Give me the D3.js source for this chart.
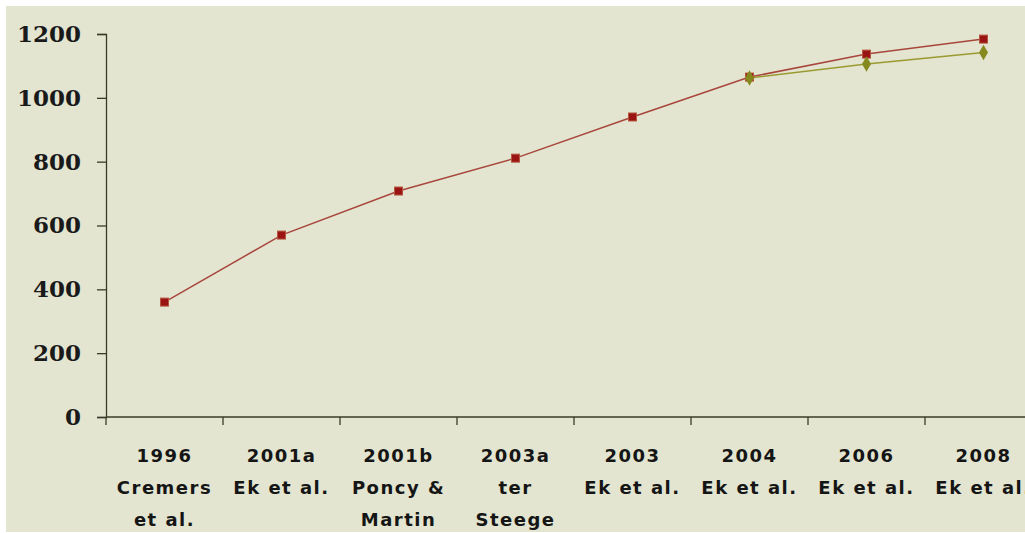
<!DOCTYPE html>
<html>
<head>
<meta charset="utf-8">
<script src="https://cdn.jsdelivr.net/npm/d3@7"></script>
<style>
  body { margin: 0; background: #ffffff; }
  svg { display: block; }
</style>
</head>
<body>
<div id="wrapper"></div>
<script>
// categories, two lines of label each (year + source)
const categories = ["1996", "2001a", "2001b", "2003a", "2003", "2004", "2006", "2008"];
const labelLines = [
    ["1996", "Cremers", "et al."],
    ["2001a", "Ek et al."],
    ["2001b", "Poncy &", "Martin"],
    ["2003a", "ter", "Steege"],
    ["2003", "Ek et al."],
    ["2004", "Ek et al."],
    ["2006", "Ek et al."],
    ["2008", "Ek et al."]
];
// red squares
const seriesA = [360, 570, 708, 811, 940, 1065, 1137, 1184];
// olive diamonds, only from 2004
const seriesB = [null, null, null, null, null, 1062, 1106, 1142];
const yTicks = [0, 200, 400, 600, 800, 1000, 1200];

function buildPlot() {
    const dimension = {
        width: 1025,
        height: 533,
        margin: { top: 34, left: 106, bottom: 116, right: -17 }
    };
    dimension.boundedWidth = dimension.width - dimension.margin.left - dimension.margin.right;
    dimension.boundedHeight = dimension.height - dimension.margin.top - dimension.margin.bottom;

    const svg = d3.select("#wrapper").append("svg")
        .attr("width", dimension.width)
        .attr("height", dimension.height);

    // panel background
    svg.append("rect")
        .attr("x", 6).attr("y", 6)
        .attr("width", dimension.width - 6)
        .attr("height", dimension.height - 7)
        .attr("fill", "#e3e5d0");

    const bounded = svg.append("g")
        .attr("transform", `translate(${dimension.margin.left},${dimension.margin.top})`);

    const xScaler = d3.scaleBand()
        .domain(categories)
        .range([0, dimension.boundedWidth]);

    const yScaler = d3.scaleLinear()
        .domain([0, 1200])
        .range([dimension.boundedHeight, 0]);

    const xCenter = (i) => xScaler(categories[i]) + xScaler.bandwidth() / 2;

    // y axis
    const yAxis = bounded.append("g")
        .call(d3.axisLeft(yScaler).tickValues(yTicks).tickSize(9).tickPadding(16).tickFormat(d3.format("d")));
    yAxis.select(".domain").attr("stroke", "#3a3a2a").attr("stroke-width", 1.3);
    yAxis.selectAll(".tick line").attr("stroke", "#3a3a2a").attr("stroke-width", 1.3);
    yAxis.selectAll(".tick text")
        .attr("fill", "#1a1a1a")
        .style("font-family", "'DejaVu Serif', serif")
        .style("font-weight", "bold")
        .style("font-size", "23px");

    // x axis with ticks at band edges
    const edges = categories.map((c) => xScaler(c)).concat([dimension.boundedWidth]);
    const xAxisG = bounded.append("g")
        .attr("transform", `translate(0,${dimension.boundedHeight})`);
    xAxisG.append("line")
        .attr("x1", 0).attr("x2", dimension.boundedWidth)
        .attr("stroke", "#3a3a2a").attr("stroke-width", 1.3);
    xAxisG.selectAll("line.tk")
        .data(edges)
        .join("line")
        .attr("class", "tk")
        .attr("x1", (d) => d).attr("x2", (d) => d)
        .attr("y1", 0).attr("y2", 8)
        .attr("stroke", "#3a3a2a").attr("stroke-width", 1.3);

    const labels = xAxisG.selectAll("text.lbl")
        .data(labelLines)
        .join("text")
        .attr("class", "lbl")
        .attr("text-anchor", "middle")
        .attr("fill", "#151515")
        .style("font-family", "'DejaVu Sans', sans-serif")
        .style("font-weight", "bold")
        .style("font-size", "18px")
        .style("letter-spacing", "1.5px");
    labels.each(function (lines, i) {
        d3.select(this).selectAll("tspan")
            .data(lines)
            .join("tspan")
            .attr("x", xCenter(i))
            .attr("y", (d, j) => 45 + j * 32)
            .text((d) => d);
    });

    // lines
    const lineA = d3.line()
        .x((d, i) => xCenter(i))
        .y((d) => yScaler(d));
    bounded.append("path")
        .attr("d", lineA(seriesA))
        .attr("fill", "none")
        .attr("stroke", "#a8463c")
        .attr("stroke-width", 1.5);

    const lineB = d3.line()
        .defined((d) => d != null)
        .x((d, i) => xCenter(i))
        .y((d) => yScaler(d));
    bounded.append("path")
        .attr("d", lineB(seriesB))
        .attr("fill", "none")
        .attr("stroke", "#9a9a30")
        .attr("stroke-width", 1.5);

    // markers
    bounded.selectAll("rect.sq")
        .data(seriesA)
        .join("rect")
        .attr("class", "sq")
        .attr("x", (d, i) => xCenter(i) - 4)
        .attr("y", (d) => yScaler(d) - 4)
        .attr("width", 8).attr("height", 8)
        .attr("fill", "#9b1414")
        .attr("stroke", "#b5573f")
        .attr("stroke-width", 1);

    bounded.selectAll("path.dm")
        .data(seriesB.map((v, i) => ({ v, i })).filter((d) => d.v != null))
        .join("path")
        .attr("class", "dm")
        .attr("d", d3.symbol().type(d3.symbolDiamond).size(70))
        .attr("transform", (d) => `translate(${xCenter(d.i)},${yScaler(d.v)})`)
        .attr("fill", "#868a1e");
}
buildPlot();
</script>
</body>
</html>
